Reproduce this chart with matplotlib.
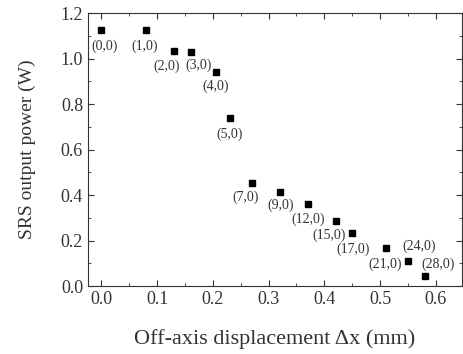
import matplotlib
matplotlib.use('Agg')
import matplotlib.pyplot as plt
from matplotlib.ticker import MultipleLocator, FormatStrFormatter

# off-axis displacement (mm) and SRS output power (W)
dx = [0.0, 0.08, 0.13, 0.16, 0.205, 0.23, 0.27, 0.32, 0.37, 0.42, 0.45, 0.51, 0.55, 0.58]
power = [1.125, 1.125, 1.033, 1.028, 0.94, 0.737, 0.455, 0.415, 0.36, 0.285, 0.232, 0.168, 0.112, 0.042]
labels = ['(0,0)', '(1,0)', '(2,0)', '(3,0)', '(4,0)', '(5,0)', '(7,0)', '(9,0)',
          '(12,0)', '(15,0)', '(17,0)', '(21,0)', '(24,0)', '(28,0)']
# label offsets in pixels (right, down)
offsets = [(3, 16), (-1, 16), (-7, 15), (8, 13), (0, 14), (0, 16), (-6, 15), (1, 14),
           (0, 15), (-6, 14), (1, 16), (-1, 16), (11, -14), (13, -12)]

plt.rcParams['font.family'] = ['Liberation Serif', 'DejaVu Serif']
ink = '#333333'

fig = plt.figure(figsize=(4.63, 3.54), dpi=100)
ax = fig.add_axes([0.190, 0.192, 0.808, 0.771])

ax.plot(dx, power, 's', color='black', markersize=5)

for x, y, lab, (ox, oy) in zip(dx, power, labels, offsets):
    ax.annotate(lab, (x, y), xytext=(ox * 0.72, -oy * 0.72), textcoords='offset points',
                ha='center', va='center', fontsize=10, color=ink)

ax.set_xlim(-0.024, 0.647)
ax.set_ylim(0, 1.2)
ax.xaxis.set_major_locator(MultipleLocator(0.1))
ax.xaxis.set_minor_locator(MultipleLocator(0.05))
ax.yaxis.set_major_locator(MultipleLocator(0.2))
ax.yaxis.set_minor_locator(MultipleLocator(0.1))
ax.xaxis.set_major_formatter(FormatStrFormatter('%.1f'))
ax.yaxis.set_major_formatter(FormatStrFormatter('%.1f'))
ax.tick_params(which='both', direction='in', top=True, right=True, colors=ink, labelsize=13)
ax.tick_params(which='major', length=4)
ax.tick_params(which='minor', length=2)
for s in ax.spines.values():
    s.set_color(ink)

ax.set_xlabel('Off-axis displacement Δx (mm)', fontsize=16, color=ink, labelpad=15)
ax.set_ylabel('SRS output power (W)', fontsize=14, color=ink, labelpad=18)

fig.savefig('out.png', dpi=100)
